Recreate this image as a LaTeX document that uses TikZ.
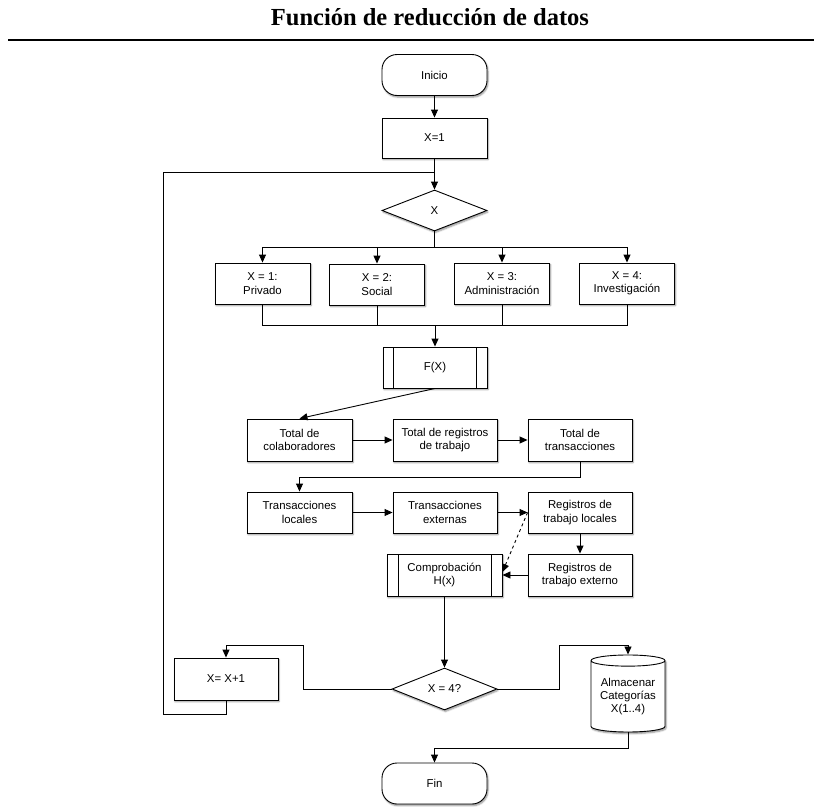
\documentclass[tikz,border=0pt]{standalone}
\usepackage{fontspec}
\setmainfont{Liberation Sans}
\newfontfamily\titlefont{Liberation Serif}
\usetikzlibrary{arrows.meta,shapes.geometric,shadows.blur}

\begin{document}
\begin{tikzpicture}[x=1pt,y=-1pt,
  every node/.style={font=\fontsize{11.4}{13.4}\selectfont, align=center, inner sep=0pt},
  base/.style={draw, line width=0.9pt, fill=white,
    blur shadow={shadow xshift=1pt, shadow yshift=-1.6pt, shadow blur steps=5,
      shadow blur radius=1.6pt, shadow opacity=45}},
  proc/.style={base, rectangle, minimum width=104pt, minimum height=42pt},
  term/.style={base, rectangle, rounded corners=15pt, minimum width=105pt, minimum height=41pt},
  decision/.style={base, diamond, aspect=2.5, minimum width=105pt, minimum height=42pt},
  subproc/.style={proc, path picture={
    \draw[line width=0.9pt]
      ([xshift=#1]path picture bounding box.north west) -- ([xshift=#1]path picture bounding box.south west)
      ([xshift=-#1]path picture bounding box.north east) -- ([xshift=-#1]path picture bounding box.south east);}},
  subproc/.default=10.5pt,
  store/.style={base, cylinder, shape border rotate=90, aspect=0.2,
    minimum width=74pt, minimum height=77pt},
  ln/.style={line width=0.9pt},
  arr/.style={ln, -{Triangle[length=8pt,width=7pt]}}
]
\useasboundingbox (0,0) rectangle (814,806);

% heading and rule
\node[font=\titlefont\bfseries\fontsize{24.5}{28}\selectfont, anchor=base] (title) at (430,25)
  {Función de reducción de datos};
\coordinate (ruleL) at (8,40);
\coordinate (ruleR) at (814,40);
\draw[line width=1.5pt] (ruleL) -- (ruleR);

% nodes
\node[term] (inicio) at (434.5,75) {Inicio};
\node[proc, minimum width=105pt, minimum height=40pt] (x1) at (434.5,138) {X=1};
\node[decision, minimum height=41pt] (dx) at (434.5,210.5) {X};

\node[proc, minimum width=95pt, minimum height=41pt] (b1) at (262.5,283.5) {X = 1:\\Privado};
\node[proc, minimum width=95pt, minimum height=41pt] (b2) at (377,284.5) {X = 2:\\Social};
\node[proc, minimum width=95pt, minimum height=41pt] (b3) at (502,283.5) {X = 3:\\Administración};
\node[proc, minimum width=95pt, minimum height=41pt] (b4) at (627,283.5) {X = 4:\\Investigación};

\node[subproc, minimum height=41pt] (fx) at (435,367.5) {F(X)};

\node[proc, minimum width=105pt] (t1) at (299.5,440) {Total de\\colaboradores};
\node[proc] (t2) at (445,440) {Total de registros\\de trabajo};
\node[proc] (t3) at (580,440) {Total de\\transacciones};

\node[proc, minimum width=105pt, minimum height=41pt] (l1) at (299.5,512.5) {Transacciones\\locales};
\node[proc, minimum height=41pt] (l2) at (445,512.5) {Transacciones\\externas};
\node[proc, minimum height=41pt] (rl) at (580,512.5) {Registros de\\trabajo locales};

\node[subproc=11pt, minimum width=115pt] (comp) at (444.5,575) {Comprobación\\H(x)};
\node[proc] (re) at (580,575) {Registros de\\trabajo externo};

\node[decision] (d4) at (444.5,689) {X = 4?};
\node[proc] (xinc) at (226,679) {X= X+1};
\node[store] (cyl) at (628,696.5) {Almacenar\\Categorías\\X(1..4)};

\node[term] (fin) at (434.5,783.5) {Fin};

% routing points
\coordinate (loopT) at (163,172);
\coordinate (loopB) at (163,714);
\coordinate (split) at (434.5,247);
\coordinate (merge) at (435,325);
\coordinate (turn1) at (0,477);
\coordinate (backK) at (303,645);
\coordinate (fwdK) at (559,645);
\coordinate (finK) at (0,748);

% connectors
\draw[arr] (inicio) -- (x1);
\draw[arr] (x1) -- (dx);
\draw[ln] (xinc.south) |- (loopB) -- (loopT) -- (loopT -| x1.south);

\draw[ln] (dx.south) -- (split);
\draw[arr] (split) -| (b1.north);
\draw[arr] (split) -| (b2.north);
\draw[arr] (split) -| (b3.north);
\draw[arr] (split) -| (b4.north);

\draw[ln] (b1.south) |- (merge);
\draw[ln] (b2.south) |- (merge);
\draw[ln] (b3.south) |- (merge);
\draw[ln] (b4.south) |- (merge);
\draw[arr] (merge) -- (fx.north);

\draw[arr] (fx.south) -- (t1.north);
\draw[arr] (t1) -- (t2);
\draw[arr] (t2) -- (t3);
\draw[arr] (t3.south) -- (t3.south |- turn1) -| (l1.north);
\draw[arr] (l1) -- (l2);
\draw[arr] (l2) -- (rl);
\draw[arr] (rl) -- (re);
\draw[arr] (re) -- (comp);
\draw[arr, dashed] (rl.west) -- ([yshift=3pt]comp.east);

\draw[arr] (comp.south) -- (d4.north);
\draw[arr] (d4.west) -| (backK) -| (xinc.north);
\draw[arr] (d4.east) -| (fwdK) -| (cyl.north);
\draw[arr] (cyl.south) -- (cyl.south |- finK) -| (fin.north);
\end{tikzpicture}
\end{document}
